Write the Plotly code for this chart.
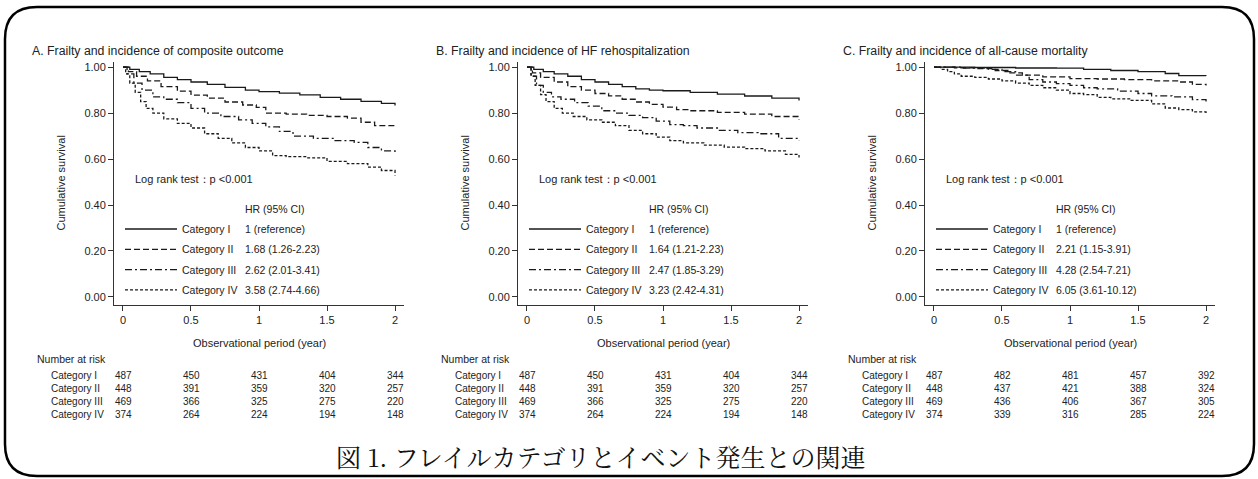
import plotly.graph_objects as go

W, H = 1258, 479

# ---------------- data ----------------
categories = ["Category I", "Category II", "Category III", "Category IV"]
panel_titles = ["A. Frailty and incidence of composite outcome",
                "B. Frailty and incidence of HF rehospitalization",
                "C. Frailty and incidence of all-cause mortality"]
hr_texts = [
    ["1 (reference)", "1.68 (1.26-2.23)", "2.62 (2.01-3.41)", "3.58 (2.74-4.66)"],
    ["1 (reference)", "1.64 (1.21-2.23)", "2.47 (1.85-3.29)", "3.23 (2.42-4.31)"],
    ["1 (reference)", "2.21 (1.15-3.91)", "4.28 (2.54-7.21)", "6.05 (3.61-10.12)"],
]
risk_times = [0, 0.5, 1, 1.5, 2]
risk_A = [[487, 450, 431, 404, 344], [448, 391, 359, 320, 257],
          [469, 366, 325, 275, 220], [374, 264, 224, 194, 148]]
risk_B = [[487, 450, 431, 404, 344], [448, 391, 359, 320, 257],
          [469, 366, 325, 275, 220], [374, 264, 224, 194, 148]]
risk_C = [[487, 482, 481, 457, 392], [448, 437, 421, 388, 324],
          [469, 436, 406, 367, 305], [374, 339, 316, 285, 224]]

# Panel A curves (time in years, cumulative survival)
A1_t = [0, 0.05, 0.12, 0.2, 0.3, 0.4, 0.5, 0.62, 0.75, 0.9, 1.0, 1.15, 1.3, 1.45, 1.6, 1.75, 1.9, 2.0]
A1_s = [1.0, 0.99, 0.98, 0.97, 0.955, 0.945, 0.935, 0.925, 0.912, 0.9, 0.893, 0.887, 0.879, 0.868, 0.86, 0.851, 0.842, 0.833]
A2_t = [0, 0.04, 0.1, 0.18, 0.28, 0.4, 0.5, 0.62, 0.75, 0.88, 0.98, 1.05, 1.2, 1.35, 1.5, 1.65, 1.75, 1.85, 2.0]
A2_s = [1.0, 0.98, 0.96, 0.94, 0.915, 0.895, 0.878, 0.865, 0.848, 0.835, 0.825, 0.8, 0.795, 0.79, 0.785, 0.778, 0.76, 0.745, 0.736]
A3_t = [0, 0.03, 0.08, 0.14, 0.22, 0.3, 0.4, 0.5, 0.6, 0.72, 0.85, 0.95, 1.05, 1.15, 1.25, 1.4, 1.55, 1.7, 1.8, 1.9, 2.0]
A3_s = [1.0, 0.97, 0.93, 0.9, 0.87, 0.86, 0.845, 0.82, 0.8, 0.785, 0.77, 0.755, 0.74, 0.72, 0.7, 0.69, 0.68, 0.672, 0.65, 0.635, 0.617]
A4_t = [0, 0.02, 0.05, 0.09, 0.13, 0.17, 0.22, 0.3, 0.4, 0.5, 0.6, 0.7, 0.8, 0.9, 1.0, 1.1, 1.2, 1.35, 1.5, 1.65, 1.8, 1.9, 2.0]
A4_s = [1.0, 0.97, 0.93, 0.89, 0.85, 0.82, 0.8, 0.775, 0.755, 0.735, 0.71, 0.69, 0.67, 0.65, 0.635, 0.615, 0.61, 0.605, 0.59, 0.58, 0.565, 0.55, 0.528]

# Panel B curves
B1_t = [0, 0.05, 0.12, 0.2, 0.3, 0.4, 0.5, 0.6, 0.7, 0.8, 0.9, 1.0, 1.2, 1.4, 1.6, 1.8, 2.0]
B1_s = [1.0, 0.99, 0.98, 0.97, 0.96, 0.945, 0.935, 0.925, 0.915, 0.905, 0.9, 0.897, 0.89, 0.882, 0.874, 0.865, 0.855]
B2_t = [0, 0.04, 0.1, 0.2, 0.3, 0.4, 0.5, 0.6, 0.7, 0.8, 0.9, 1.0, 1.1, 1.2, 1.4, 1.6, 1.8, 2.0]
B2_s = [1.0, 0.975, 0.955, 0.935, 0.915, 0.9, 0.885, 0.875, 0.86, 0.848, 0.838, 0.826, 0.815, 0.81, 0.803, 0.795, 0.785, 0.772]
B3_t = [0, 0.03, 0.07, 0.12, 0.18, 0.25, 0.35, 0.45, 0.55, 0.65, 0.75, 0.85, 0.95, 1.05, 1.15, 1.25, 1.4, 1.55, 1.7, 1.85, 2.0]
B3_s = [1.0, 0.96, 0.92, 0.89, 0.87, 0.86, 0.845, 0.83, 0.81, 0.8, 0.79, 0.78, 0.765, 0.75, 0.745, 0.735, 0.725, 0.715, 0.71, 0.69, 0.682]
B4_t = [0, 0.03, 0.06, 0.1, 0.14, 0.2, 0.26, 0.34, 0.44, 0.55, 0.65, 0.75, 0.85, 0.95, 1.05, 1.15, 1.3, 1.45, 1.6, 1.75, 1.9, 2.0]
B4_s = [1.0, 0.96, 0.92, 0.88, 0.85, 0.82, 0.8, 0.785, 0.77, 0.76, 0.745, 0.725, 0.71, 0.695, 0.68, 0.67, 0.66, 0.652, 0.645, 0.635, 0.62, 0.607]

# Panel C curves
C1_t = [0, 0.3, 0.6, 0.9, 1.1, 1.3, 1.5, 1.7, 1.8, 2.0]
C1_s = [1.0, 0.998, 0.996, 0.995, 0.99, 0.985, 0.98, 0.972, 0.963, 0.962]
C2_t = [0, 0.15, 0.3, 0.45, 0.55, 0.65, 0.8, 1.0, 1.2, 1.4, 1.6, 1.8, 1.9, 2.0]
C2_s = [1.0, 0.997, 0.993, 0.985, 0.975, 0.965, 0.957, 0.95, 0.948, 0.945, 0.94, 0.935, 0.925, 0.92]
C3_t = [0, 0.2, 0.4, 0.5, 0.6, 0.7, 0.8, 0.9, 1.0, 1.1, 1.2, 1.35, 1.5, 1.6, 1.75, 1.9, 2.0]
C3_s = [1.0, 0.995, 0.99, 0.98, 0.965, 0.945, 0.935, 0.928, 0.92, 0.91, 0.905, 0.895, 0.885, 0.875, 0.87, 0.858, 0.85]
C4_t = [0, 0.05, 0.1, 0.15, 0.2, 0.3, 0.4, 0.5, 0.6, 0.7, 0.8, 0.9, 1.0, 1.1, 1.2, 1.3, 1.45, 1.6, 1.7, 1.8, 1.9, 2.0]
C4_s = [1.0, 0.99, 0.98, 0.97, 0.96, 0.955, 0.948, 0.94, 0.93, 0.92, 0.91, 0.9, 0.885, 0.88, 0.868, 0.862, 0.855, 0.84, 0.822, 0.815, 0.805, 0.8]

x_tickvals = [0, 0.5, 1, 1.5, 2]
x_ticktext = ["0", "0.5", "1", "1.5", "2"]
y_tickvals = [0, 0.2, 0.4, 0.6, 0.8, 1.0]
y_ticktext = ["0.00", "0.20", "0.40", "0.60", "0.80", "1.00"]
caption = "図 1. フレイルカテゴリとイベント発生との関連"

panels = [
    ([(A1_t, A1_s), (A2_t, A2_s), (A3_t, A3_s), (A4_t, A4_s)], risk_A),
    ([(B1_t, B1_s), (B2_t, B2_s), (B3_t, B3_s), (B4_t, B4_s)], risk_B),
    ([(C1_t, C1_s), (C2_t, C2_s), (C3_t, C3_s), (C4_t, C4_s)], risk_C),
]

# ---------------- styling ----------------
FONT = "Liberation Sans, Arial, sans-serif"
TXT = "#222222"
LINE = "#1a1a1a"
dashes = ["solid", "6px,3px", "7px,3px,2px,3px", "3px,2px"]
XR = [-0.066, 2.066]
YR = [-0.035, 1.022]
axis_left_px = [114, 518, 925]
axis_width_px = 290
y_top_px, y_bot_px = 62, 305


def px(x):
    return x / W


def py(y):
    return 1 - y / H


fig = go.Figure()
annotations = []
shapes = []


def ann(x, y, text, size=11, xanchor="left", yanchor="middle", family=FONT, color=TXT, angle=0):
    annotations.append(dict(x=px(x), y=py(y), xref="paper", yref="paper", text=text,
                            showarrow=False, xanchor=xanchor, yanchor=yanchor,
                            textangle=angle, font=dict(family=family, size=size, color=color)))


for i, (curves, risk) in enumerate(panels):
    xa = "x" if i == 0 else f"x{i+1}"
    ya = "y" if i == 0 else f"y{i+1}"
    for k, (t, s) in enumerate(curves):
        fig.add_trace(go.Scatter(x=t, y=s, mode="lines", line_shape="hv",
                                 line=dict(color=LINE, width=1.3, dash=dashes[k]),
                                 xaxis=xa, yaxis=ya, showlegend=False, hoverinfo="skip"))
    L = axis_left_px[i]
    dom_x = [px(L), px(L + axis_width_px)]
    dom_y = [py(y_bot_px), py(y_top_px)]
    xname = "xaxis" if i == 0 else f"xaxis{i+1}"
    yname = "yaxis" if i == 0 else f"yaxis{i+1}"
    fig.update_layout(**{
        xname: dict(domain=dom_x, range=XR, anchor=ya, tickvals=x_tickvals, ticktext=x_ticktext,
                    ticks="outside", ticklen=5, tickcolor="#333", showline=True, linecolor="#333",
                    linewidth=1, showgrid=False, zeroline=False,
                    tickfont=dict(family=FONT, size=11, color=TXT), fixedrange=True),
        yname: dict(domain=dom_y, range=YR, anchor=xa, tickvals=y_tickvals, ticktext=y_ticktext,
                    ticks="outside", ticklen=5, tickcolor="#333", showline=True, linecolor="#333",
                    linewidth=1, showgrid=False, zeroline=False,
                    tickfont=dict(family=FONT, size=11, color=TXT), fixedrange=True),
    })

    x0 = L + 9  # pixel of t = 0
    scale = (axis_width_px) / (XR[1] - XR[0])

    # titles
    ann(L - 84, 51, panel_titles[i], size=12.3)
    ann(L - 54, (y_top_px + y_bot_px) / 2, "Cumulative survival", size=11, xanchor="center", angle=-90)
    ann(x0 + 1.0 * scale, 343, "Observational period (year)", size=11, xanchor="center")
    ann(L + 19, 179, "Log rank test：p <0.001", size=11)

    # legend
    ann(L + 129, 209, "HR (95% CI)", size=10.5)
    for k in range(4):
        yy = 229 + 20.3 * k
        shapes.append(dict(type="line", xref="paper", yref="paper", x0=px(L + 11), x1=px(L + 63),
                           y0=py(yy), y1=py(yy), line=dict(color=LINE, width=1.3, dash=dashes[k])))
        ann(L + 66, yy, categories[k], size=10.5)
        ann(L + 129, yy, hr_texts[i][k], size=10.5)

    # number at risk table
    ann(L - 79, 359, "Number at risk", size=10.5)
    for k in range(4):
        yy = 375 + 13 * k
        ann(L - 65, yy, categories[k], size=10)
        for j, tv in enumerate(risk_times):
            ann(x0 + tv * scale, yy, str(risk[k][j]), size=10, xanchor="center")

# caption
ann(601, 456, caption, size=25, xanchor="center",
    family="Noto Serif CJK JP, Noto Sans CJK JP, serif", color="#111")

# rounded outer frame
lft, top, rgt, bot, r = 5, 7, 1254, 476, 32


def P(x, y):
    return f"{px(x):.5f},{py(y):.5f}"


path = (f"M {P(lft + r, top)} L {P(rgt - r, top)} Q {P(rgt, top)} {P(rgt, top + r)} "
        f"L {P(rgt, bot - r)} Q {P(rgt, bot)} {P(rgt - r, bot)} "
        f"L {P(lft + r, bot)} Q {P(lft, bot)} {P(lft, bot - r)} "
        f"L {P(lft, top + r)} Q {P(lft, top)} {P(lft + r, top)} Z")
shapes.append(dict(type="path", xref="paper", yref="paper", path=path,
                   line=dict(color="#000", width=2.5), layer="above"))

fig.update_layout(width=W, height=H, margin=dict(l=0, r=0, t=0, b=0),
                  paper_bgcolor="white", plot_bgcolor="white",
                  annotations=annotations, shapes=shapes, showlegend=False)

fig.write_html("out.html", config={"displayModeBar": False},
               post_script="document.body.style.margin='0';document.body.style.overflow='hidden';")
